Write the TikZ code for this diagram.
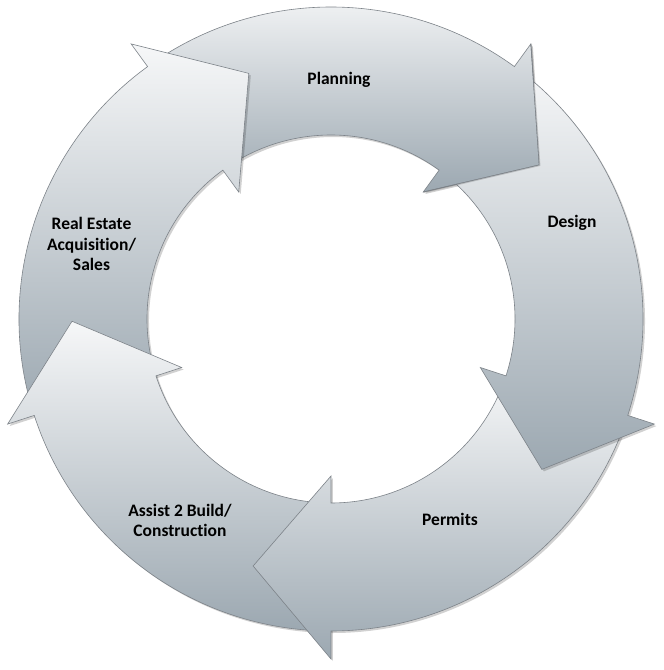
\documentclass[tikz,border=0pt]{standalone}
\usepackage{fontspec}
\setmainfont{Carlito}[Ligatures={NoCommon,NoDiscretionary,NoRare}]
\definecolor{arrtop}{RGB}{246,247,248}
\definecolor{arrbot}{RGB}{156,168,177}
\definecolor{arredge}{RGB}{125,131,137}
\newcommand{\cycpath}[1]{(#1:312pt) arc[start angle=#1, end angle=#1-72, radius=312pt] -- ({#1-72}:340pt) -- ({#1-89.5}:259pt) -- ({#1-72}:157pt) -- ({#1-72}:184pt) arc[start angle=#1-72, end angle=#1, radius=184pt] -- cycle}
\tikzset{
  cycarrow/.style={top color=arrtop, bottom color=arrbot, draw=arredge, line width=0.6pt, line join=miter},
  cycshadow/.style={fill=black, fill opacity=0.18, draw=none},
  cyclabel/.style={font=\fontsize{17.5pt}{20.5pt}\selectfont\bfseries, align=center, inner sep=0pt, text=black}
}
\newcommand{\cycarrowdraw}[1]{%
  \fill[cycshadow, xshift=2pt, yshift=-2pt] \cycpath{#1};
  \path[cycarrow] \cycpath{#1};
}
\begin{document}
\begin{tikzpicture}
\useasboundingbox (-331pt,-351pt) rectangle (333pt,319pt);
\fill[white] (-331pt,-351pt) rectangle (333pt,319pt);
% head points of the Planning arrow
\coordinate (pa) at (54:340pt);
\coordinate (pb) at (36.5:259pt);
\coordinate (pc) at (54:157pt);
\coordinate (pd) at (57:150pt);
\coordinate (pe) at (57:350pt);
% Planning (tail 126, head 54)
\cycarrowdraw{126}
% Real Estate
\cycarrowdraw{-162}
% Assist 2 Build
\cycarrowdraw{-90}
% Permits
\cycarrowdraw{-18}
% Design, kept out of the Planning head (outer box anticlockwise, hole clockwise)
\begin{scope}
  \clip (-400pt,-400pt) -- (400pt,-400pt) -- (400pt,400pt) -- (-400pt,400pt) -- cycle
        (pa) -- (pb) -- (pc) -- (pd) -- (pe) -- cycle;
  \cycarrowdraw{54}
\end{scope}
% shadow and edge of the Planning head over Design
\begin{scope}
  \clip (pc) -- (pb) -- (pa) -- ++(60pt,0pt) -- ++(0pt,-200pt) -- ++(-150pt,0pt) -- cycle;
  \draw[black, opacity=0.16, line width=2.4pt, xshift=1.6pt, yshift=-1.6pt] (pa) -- (pb) -- (pc);
\end{scope}
\draw[arredge, line width=0.6pt, line join=miter] (pa) -- (pb) -- (pc);
\node[cyclabel] (planning) at (8pt,239pt) {Planning};
\node[cyclabel] (design) at (241pt,96pt) {Design};
\node[cyclabel] (permits) at (119pt,-200pt) {Permits};
\node[cyclabel] (assist) at (-151pt,-201.5pt) {Assist 2 Build/\\Construction};
\node[cyclabel] (realestate) at (-239.5pt,75pt) {Real Estate\\Acquisition/\\Sales};
\end{tikzpicture}
\end{document}
